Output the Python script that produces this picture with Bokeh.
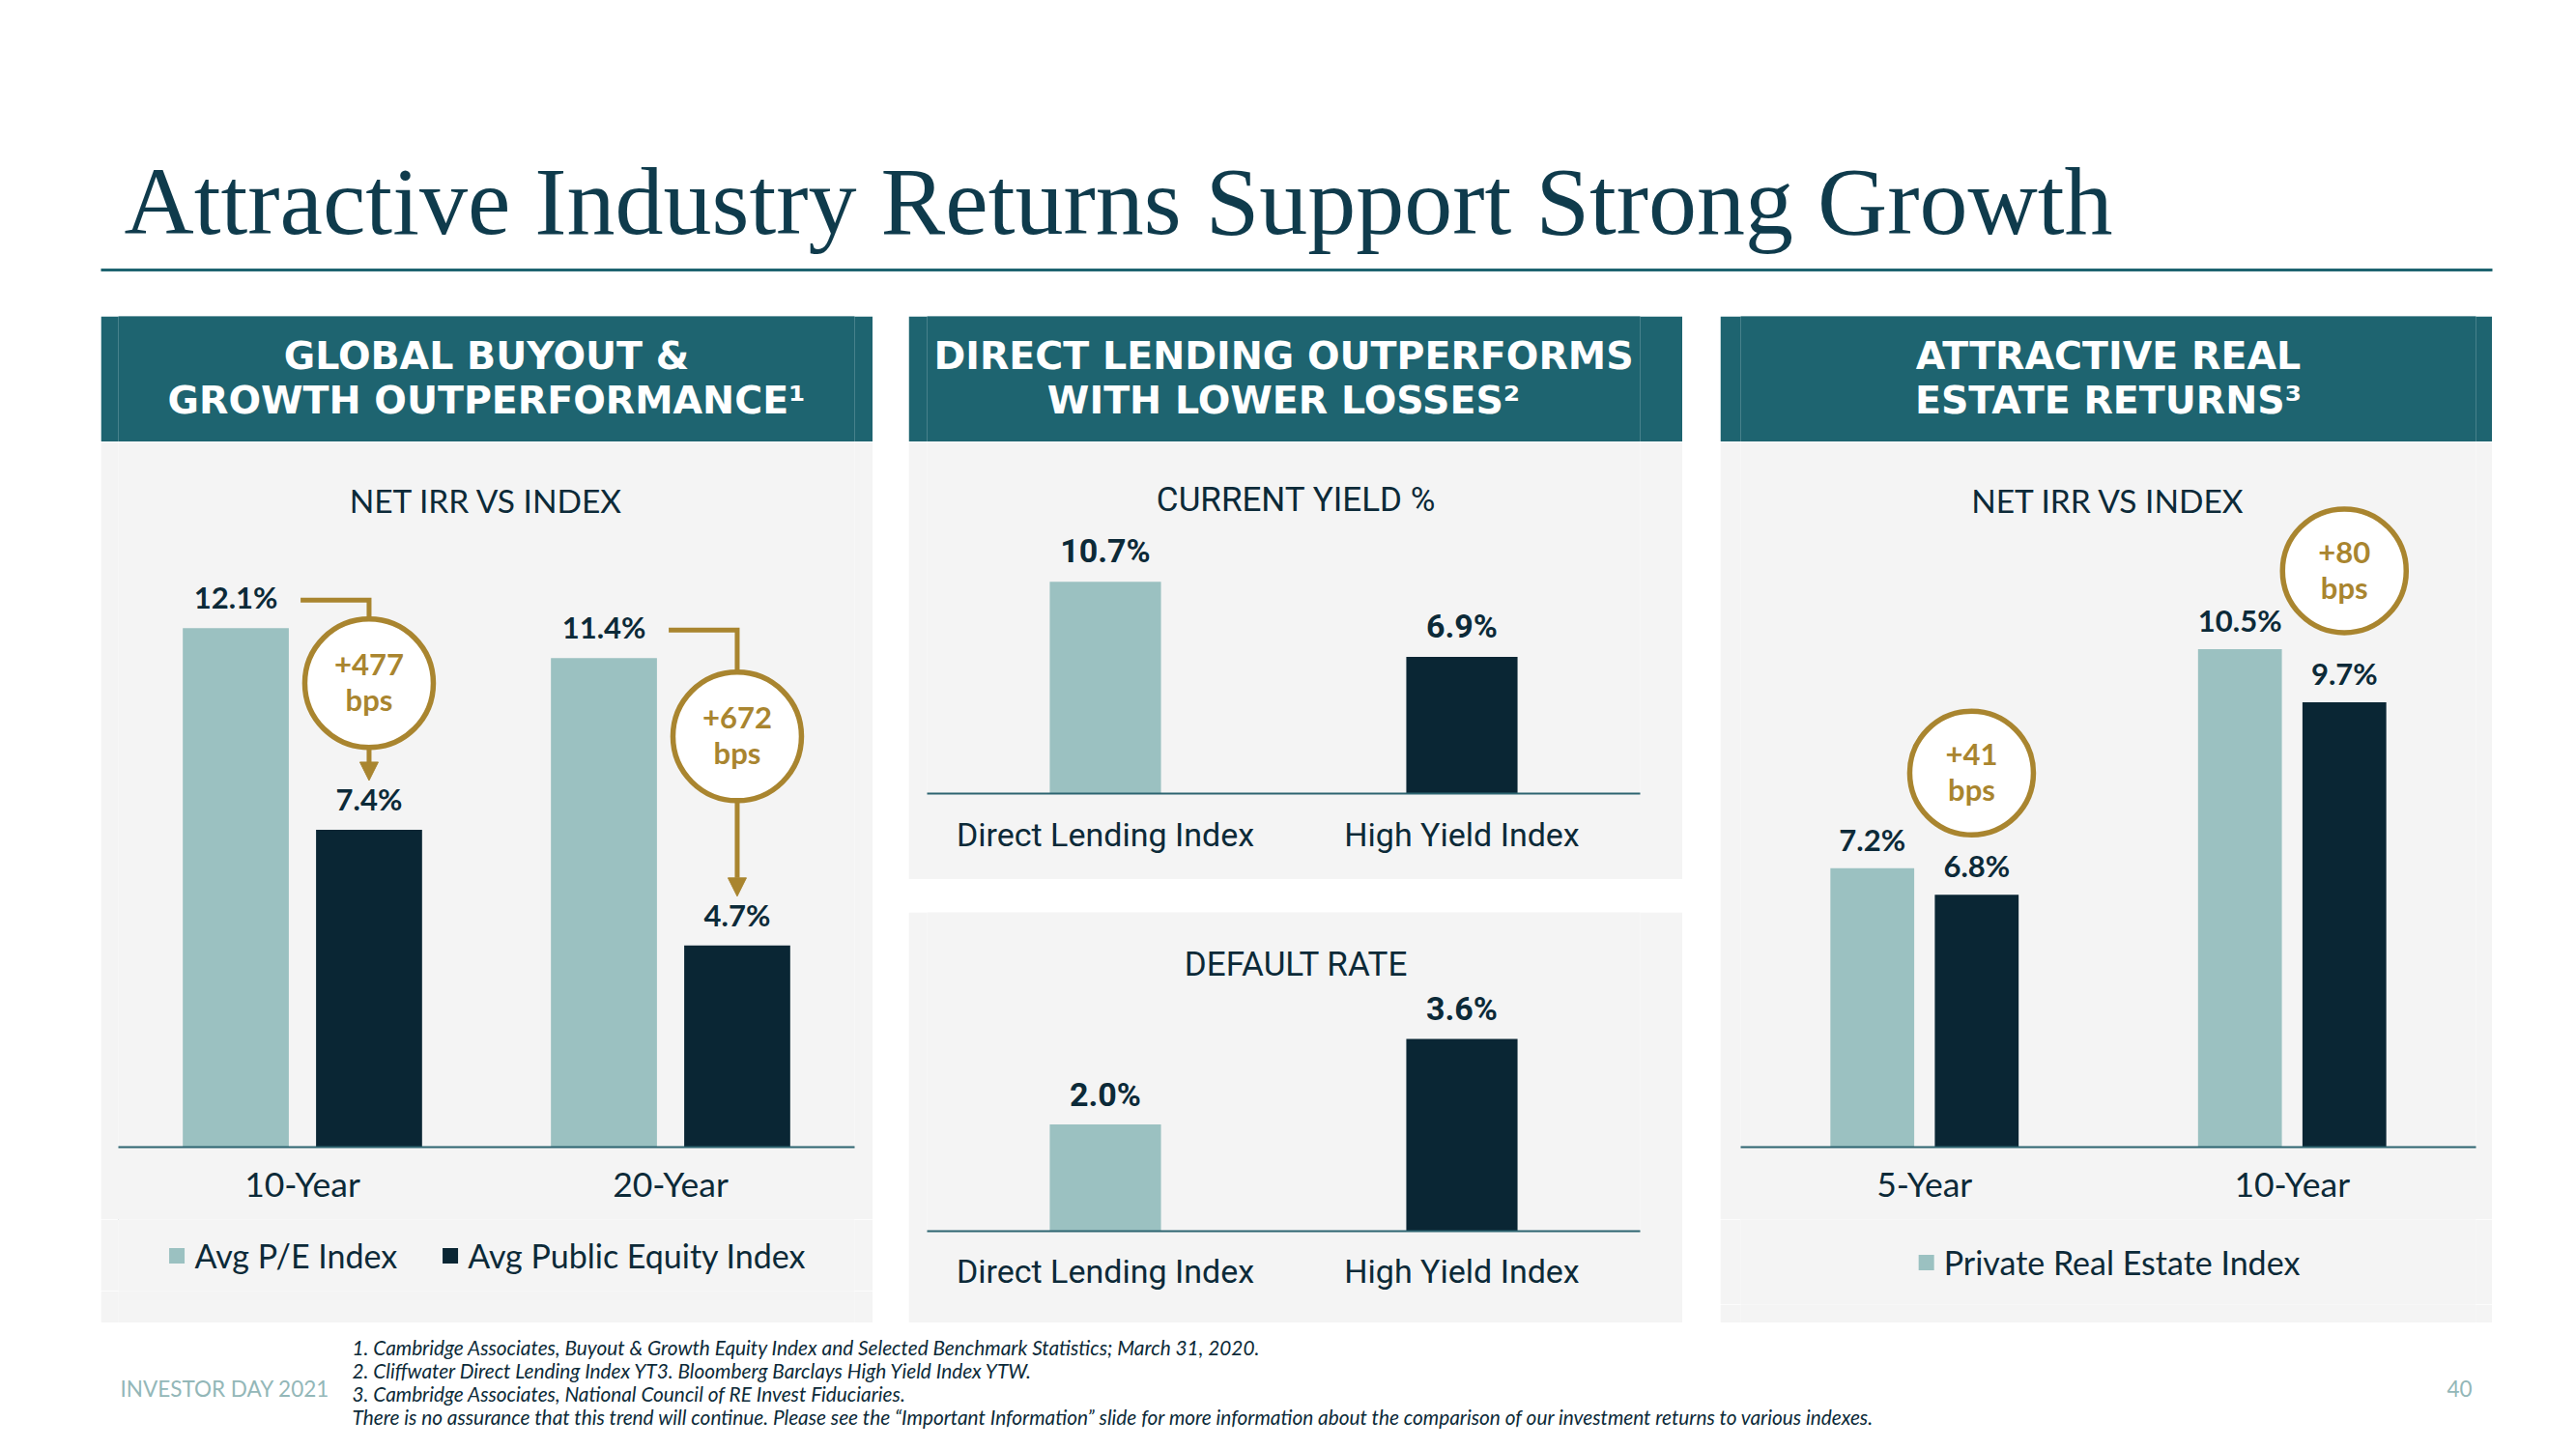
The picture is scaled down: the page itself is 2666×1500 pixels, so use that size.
from bokeh.plotting import figure
from bokeh.models import (Range1d, FixedTicker, Legend, LegendItem, Arrow, NormalHead, Spacer)
from bokeh.layouts import column, row
from bokeh.core.properties import value
from bokeh.embed import file_html
from bokeh.resources import INLINE

# ---------------- data ----------------
TITLE = "Attractive Industry Returns Support Strong Growth"

BUYOUT_HEADER = ["GLOBAL BUYOUT &", "GROWTH OUTPERFORMANCE\u00b9"]
BUYOUT_SUB = "NET IRR VS INDEX"
BUYOUT_PERIODS = ["10-Year", "20-Year"]
BUYOUT_PE = [12.1, 11.4]
BUYOUT_PUBLIC = [7.4, 4.7]
BUYOUT_SPREAD = ["+477", "+672"]
BUYOUT_SERIES = ["Avg P/E Index", "Avg Public Equity Index"]

LENDING_HEADER = ["DIRECT LENDING OUTPERFORMS", "WITH LOWER LOSSES\u00b2"]
LENDING_CATS = ["Direct Lending Index", "High Yield Index"]
YIELD_SUB = "CURRENT YIELD %"
LENDING_YIELD = [10.7, 6.9]
DEFAULT_SUB = "DEFAULT RATE"
LENDING_DEFAULT = [2.0, 3.6]

RE_HEADER = ["ATTRACTIVE REAL", "ESTATE RETURNS\u00b3"]
RE_SUB = "NET IRR VS INDEX"
RE_PERIODS = ["5-Year", "10-Year"]
RE_PRIVATE = [7.2, 10.5]
RE_INDEX = [6.8, 9.7]
RE_SPREAD = ["+41", "+80"]
RE_SERIES = ["Private Real Estate Index"]

FOOTNOTES = [
    "1. Cambridge Associates, Buyout & Growth Equity Index and Selected Benchmark Statistics; March 31, 2020.",
    "2. Cliffwater Direct Lending Index YT3. Bloomberg Barclays High Yield Index YTW.",
    "3. Cambridge Associates, National Council of RE Invest Fiduciaries.",
    "There is no assurance that this trend will continue. Please see the \u201cImportant Information\u201d slide for more information about the comparison of our investment returns to various indexes.",
]
FOOTER_LEFT = "INVESTOR DAY 2021"
PAGE_NO = "40"

# ---------------- styles ----------------
TEXT = "#0c2a38"
LIGHT = "#9bc1c1"
DARK = "#0a2634"
GOLD = "#a9852f"
TEAL = "#1e6470"
PANEL = "#f4f4f4"
AXIS = "#2d6470"
TITLE_C = "#0f3b4c"
FOOT_C = "#93b7b8"

BODY_NAME = "Lato"
MID_NAME = "Roboto"
BODY_FONT = value(BODY_NAME)
MID_FONT = value(MID_NAME)
HEAD_FONT = value("DejaVu Sans")


def blank_fig(w, h, bg="white"):
    p = figure(width=w, height=h, x_range=Range1d(0, w), y_range=Range1d(h, 0),
               x_axis_location=None, y_axis_location=None, output_backend="svg",
               toolbar_location=None, min_border=0, min_border_left=0,
               min_border_right=0, min_border_top=0, min_border_bottom=0)
    p.background_fill_color = bg
    p.border_fill_color = bg
    p.outline_line_color = None
    p.grid.visible = False
    p.quad(left=[0], right=[w], top=[0], bottom=[h], fill_color=bg, line_color=None)
    return p


def body_fig(w, h, bl, br, bb, frame_h, sc, y0=0.0):
    p = figure(width=w, height=h, x_range=Range1d(-0.5, 1.5),
               y_range=Range1d(y0, y0 + frame_h / sc),
               y_axis_location=None, output_backend="svg", toolbar_location=None,
               min_border_left=bl, min_border_right=br, min_border_top=0, min_border_bottom=bb)
    p.background_fill_color = PANEL
    p.border_fill_color = PANEL
    p.outline_line_color = None
    p.grid.visible = False
    return p


def style_xaxis(p, labels, font_name, size, standoff):
    ax = p.xaxis[0]
    ax.ticker = FixedTicker(ticks=list(range(len(labels))))
    ax.major_label_overrides = {i: lab for i, lab in enumerate(labels)}
    ax.major_tick_line_color = None
    ax.minor_tick_line_color = None
    ax.major_tick_out = 0
    ax.major_tick_in = 0
    ax.minor_tick_out = 0
    ax.axis_line_color = AXIS
    ax.axis_line_width = 2
    ax.major_label_text_font = font_name
    ax.major_label_text_font_size = size
    ax.major_label_text_color = TEXT
    ax.major_label_standoff = standoff


def header_fig(w, lines):
    h = blank_fig(w, 130, TEAL)
    h.text(x=[w / 2, w / 2], y=[40, 86], text=lines, text_font=HEAD_FONT,
           text_font_style="bold", text_font_size="39.5px", text_color="white",
           text_align="center", text_baseline="middle")
    return h


def legend_fig(w, h, labels, colors):
    lf = blank_fig(w, h, PANEL)
    rs = [lf.vbar(x=[-50], top=[-50], bottom=[-60], width=1, fill_color=c, line_color=None)
          for c in colors]
    leg = Legend(items=[LegendItem(label=value(t), renderers=[r]) for t, r in zip(labels, rs)],
                 orientation="horizontal", location="center", border_line_color=None,
                 background_fill_alpha=0, label_text_font=BODY_NAME,
                 label_text_font_size="34px", label_text_color=TEXT,
                 glyph_width=20, glyph_height=20, label_standoff=9, spacing=44,
                 padding=0, margin=0)
    lf.add_layout(leg, "center")
    return lf


# ---------------- title ----------------
tf = blank_fig(2650, 327)
tf.text(x=[128], y=[208], text=[TITLE], text_font=value("Liberation Serif"),
        text_font_size="100px", text_color=TITLE_C, text_align="left",
        text_baseline="middle")
tf.segment(x0=[104], y0=[279], x1=[2579], y1=[279], line_color=TEAL, line_width=3)

# ---------------- left panel ----------------
SC_L = 44.4
FH_L = 730
OFF_L, BW_L = 0.181, 0.288
pl = body_fig(799, 805, 18, 19, 75, FH_L, SC_L)
xs_l = list(range(len(BUYOUT_PERIODS)))
pl.vbar(x=[i - OFF_L for i in xs_l], top=BUYOUT_PE, width=BW_L, bottom=0,
        fill_color=LIGHT, line_color=None)
pl.vbar(x=[i + OFF_L for i in xs_l], top=BUYOUT_PUBLIC, width=BW_L, bottom=0,
        fill_color=DARK, line_color=None)
pl.text(x=[i - OFF_L for i in xs_l] + [i + OFF_L for i in xs_l],
        y=[v + 32 / SC_L for v in BUYOUT_PE] + [v + 32 / SC_L for v in BUYOUT_PUBLIC],
        text=[f"{v:.1f}%" for v in BUYOUT_PE] + [f"{v:.1f}%" for v in BUYOUT_PUBLIC],
        text_font=BODY_FONT, text_font_style="bold", text_font_size="31px",
        text_color=TEXT, text_align="center", text_baseline="middle")
pl.text(x=[0.5], y=[(FH_L - 60) / SC_L], text=[BUYOUT_SUB], text_font=BODY_FONT,
        text_font_size="33.5px", text_color=TEXT, text_align="center", text_baseline="middle")

BUBBLE_DY_L = [86, 110]
R_L = 66.5
for i in xs_l:
    cx = i + OFF_L
    ly = BUYOUT_PE[i] + 29 / SC_L
    tip = BUYOUT_PUBLIC[i] + 51 / SC_L
    cy = ly - BUBBLE_DY_L[i] / SC_L
    pl.multi_line(xs=[[i - 0.005, cx, cx]], ys=[[ly, ly, cy]], line_color=GOLD,
                  line_width=5, line_join="miter")
    pl.scatter(x=[cx], y=[cy], size=2 * R_L, marker="circle", fill_color="white",
               line_color=GOLD, line_width=5.5)
    pl.text(x=[cx, cx], y=[cy + 19 / SC_L, cy - 17 / SC_L], text=[BUYOUT_SPREAD[i], "bps"],
            text_font=BODY_FONT, text_font_style="bold", text_font_size="31px",
            text_color=GOLD, text_align="center", text_baseline="middle")
    pl.add_layout(Arrow(x_start=cx, y_start=cy - (R_L + 2) / SC_L, x_end=cx, y_end=tip,
                        line_color=GOLD, line_width=5,
                        end=NormalHead(size=19, fill_color=GOLD, line_color=GOLD, line_width=1)))

style_xaxis(pl, BUYOUT_PERIODS, BODY_NAME, "35.5px", 16)
leg_l = legend_fig(799, 74, BUYOUT_SERIES, [LIGHT, DARK])

# ---------------- middle panels ----------------
SC_MT, FH_MT = 20.5, 364
SC_MB, FH_MB = 55.3, 330
BW_M = 0.312
xs_m = list(range(len(LENDING_CATS)))


def mid_fig(h, bb, fh, sc, vals, sub, sub_px, lab_px, standoff):
    p = body_fig(801, h, 19, 44, bb, fh, sc)
    p.vbar(x=xs_m, top=vals, width=BW_M, bottom=0, fill_color=[LIGHT, DARK], line_color=None)
    p.text(x=xs_m, y=[v + lab_px / sc for v in vals], text=[f"{v:.1f}%" for v in vals],
           text_font=MID_FONT, text_font_style="bold", text_font_size="34px",
           text_color=TEXT, text_align="center", text_baseline="middle")
    p.text(x=[0.535], y=[(fh - sub_px) / sc], text=[sub], text_font=MID_FONT,
           text_font_size="35px", text_color=TEXT, text_align="center", text_baseline="middle")
    style_xaxis(p, LENDING_CATS, MID_NAME, "34px", standoff)
    return p


pmt = mid_fig(453, 89, FH_MT, SC_MT, LENDING_YIELD, YIELD_SUB, 60, 32, 22)
pmb = mid_fig(425, 95, FH_MB, SC_MB, LENDING_DEFAULT, DEFAULT_SUB, 54, 31, 21)

# ---------------- right panel ----------------
SC_R, FH_R, Y0_R = 68.75, 730, 3.0
OFF_R, BW_R = 0.142, 0.228
pr = body_fig(799, 805, 21, 17, 75, FH_R, SC_R, Y0_R)
xs_r = list(range(len(RE_PERIODS)))
pr.vbar(x=[i - OFF_R for i in xs_r], top=RE_PRIVATE, width=BW_R, bottom=Y0_R,
        fill_color=LIGHT, line_color=None)
pr.vbar(x=[i + OFF_R for i in xs_r], top=RE_INDEX, width=BW_R, bottom=Y0_R,
        fill_color=DARK, line_color=None)
pr.text(x=[i - OFF_R for i in xs_r] + [i + OFF_R for i in xs_r],
        y=[v + 30 / SC_R for v in RE_PRIVATE] + [v + 30 / SC_R for v in RE_INDEX],
        text=[f"{v:.1f}%" for v in RE_PRIVATE] + [f"{v:.1f}%" for v in RE_INDEX],
        text_font=BODY_FONT, text_font_style="bold", text_font_size="31px",
        text_color=TEXT, text_align="center", text_baseline="middle")
pr.text(x=[0.5], y=[Y0_R + (FH_R - 60) / SC_R], text=[RE_SUB], text_font=BODY_FONT,
        text_font_size="33.5px", text_color=TEXT, text_align="center", text_baseline="middle")
RE_BDX = [0.128, 0.142]
RE_BDY = [126, 136]
R_R = 64
for i in xs_r:
    cx = i + RE_BDX[i]
    cy = RE_INDEX[i] + RE_BDY[i] / SC_R
    pr.scatter(x=[cx], y=[cy], size=2 * R_R, marker="circle", fill_color="white",
               line_color=GOLD, line_width=5.5)
    pr.text(x=[cx, cx], y=[cy + 19 / SC_R, cy - 17 / SC_R], text=[RE_SPREAD[i], "bps"],
            text_font=BODY_FONT, text_font_style="bold", text_font_size="31px",
            text_color=GOLD, text_align="center", text_baseline="middle")
style_xaxis(pr, RE_PERIODS, BODY_NAME, "35.5px", 16)
leg_r = legend_fig(799, 88, RE_SERIES, [LIGHT])

# ---------------- footer ----------------
ff = blank_fig(2650, 125)
ff.text(x=[364] * 4, y=[25, 49, 73, 97], text=FOOTNOTES, text_font=BODY_FONT,
        text_font_style="italic", text_font_size="20.8px", text_color=TEXT,
        text_align="left", text_baseline="middle")
ff.text(x=[124], y=[68], text=[FOOTER_LEFT], text_font=BODY_FONT, text_font_size="22.5px",
        text_color=FOOT_C, text_align="left", text_baseline="middle")
ff.text(x=[2545], y=[68], text=[PAGE_NO], text_font=BODY_FONT, text_font_size="22.5px",
        text_color=FOOT_C, text_align="center", text_baseline="middle")

# ---------------- layout ----------------
left_col = column(header_fig(799, BUYOUT_HEADER), pl, leg_l, blank_fig(799, 33, PANEL))
mid_col = column(header_fig(801, LENDING_HEADER), pmt, Spacer(width=801, height=34), pmb)
right_col = column(header_fig(799, RE_HEADER), pr, leg_r, blank_fig(799, 19, PANEL))
panels = row(Spacer(width=104, height=1042), left_col, Spacer(width=37, height=1042),
             mid_col, Spacer(width=39, height=1042), right_col)
page = column(tf, panels, ff)

open("out.html", "w").write(file_html(page, INLINE))
